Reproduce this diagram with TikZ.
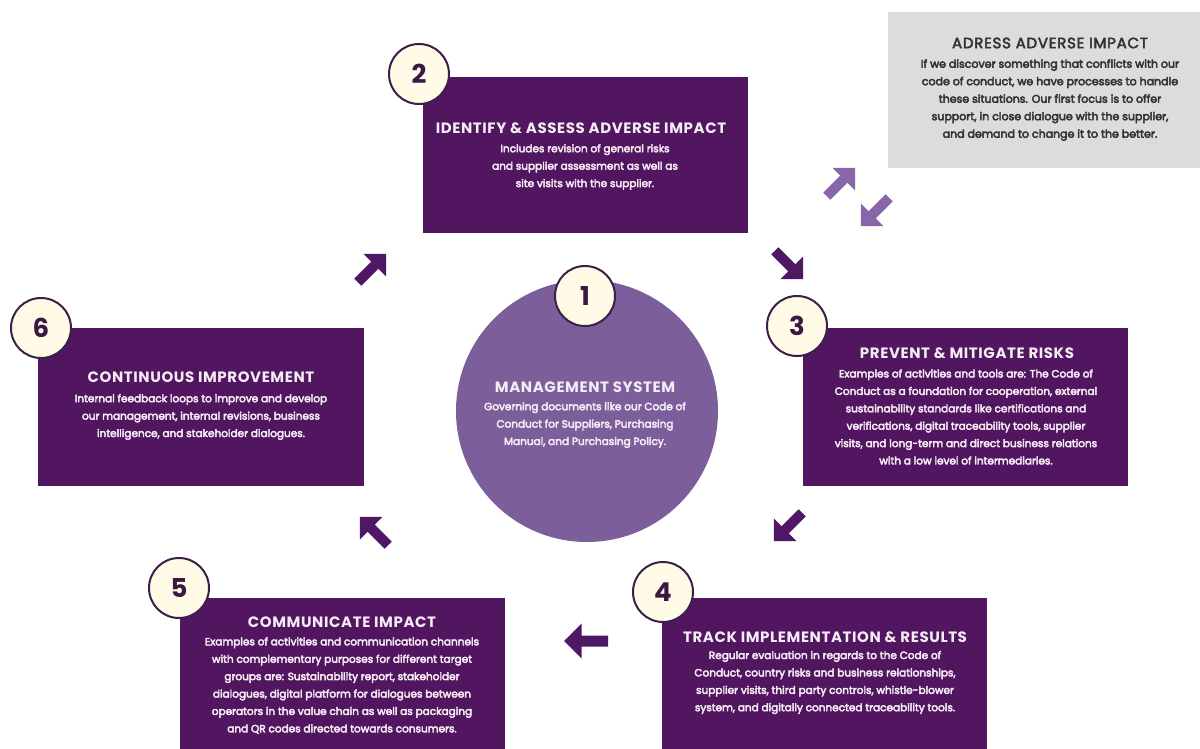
\documentclass[tikz,border=0pt]{standalone}
\usepackage{fontspec}
\setmainfont{Poppins}
\newfontfamily\bodyf[FakeBold=4]{Poppins}
\newfontfamily\ttlf[LetterSpace=4]{Poppins}
\newfontfamily\greyttlf[LetterSpace=5,FakeBold=3]{Poppins}
\definecolor{boxpurple}{HTML}{52155F}
\definecolor{midpurple}{HTML}{7C5E9B}
\definecolor{lightarrow}{HTML}{8867A8}
\definecolor{darkarrow}{HTML}{4E1864}
\definecolor{cream}{HTML}{FFFBE6}
\definecolor{numline}{HTML}{3B1F4A}
\definecolor{numtext}{HTML}{3A1846}
\definecolor{boxtext}{HTML}{F4ECF4}
\definecolor{greybox}{HTML}{DCDCDE}
\definecolor{greytext}{HTML}{333333}
\tikzset{
  pbox/.style={fill=boxpurple, draw=none, inner sep=0pt, anchor=north west},
  num/.style={circle, fill=cream, draw=numline, line width=2pt, minimum size=60pt, inner sep=0pt,
    font=\bfseries\fontsize{26}{26}\selectfont, text=numtext},
  ttl/.style={text=boxtext, inner sep=0pt, font=\ttlf\bfseries\fontsize{15}{18}\selectfont},
  body/.style={text=boxtext, align=center, inner sep=0pt, font=\bodyf\fontsize{10.5}{17.4}\selectfont},
  fatarrow/.pic={\fill (20,0) -- (4,16) -- (4,5) -- (-20,5) -- (-20,-5) -- (4,-5) -- (4,-16) -- cycle;}
}
\begin{document}
\begin{tikzpicture}[x=1pt,y=-1pt]
\useasboundingbox (0,0) rectangle (1200,749);
\fill[white] (0,0) rectangle (1200,749);

% grey box
\node[fill=greybox, inner sep=0pt, anchor=north west, minimum width=312pt, minimum height=156pt] (grey) at (888,12) {};
\node[text=greytext, inner sep=0pt, font=\greyttlf\fontsize{15}{18}\selectfont] (greyt) at (1050,43) {ADRESS ADVERSE IMPACT};
\node[body, text=greytext, font=\bodyf\fontsize{11}{17.5}\selectfont] (greyb) at (1050,100) {If we discover something that conflicts with our\\
code of conduct, we have processes to handle\\
these situations. Our first focus is to offer\\
support, in close dialogue with the supplier,\\
and demand to change it to the better.};

% center circle
\node[circle, fill=midpurple, minimum size=262pt, inner sep=0pt] (ms) at (587,411) {};
\node[ttl] (mst) at (585,387) {MANAGEMENT SYSTEM};
\node[body] (msb) at (585,425) {Governing documents like our Code of\\
Conduct for Suppliers, Purchasing\\
Manual, and Purchasing Policy.};
\node[num] (n1) at (585,296) {1};

% box 2
\node[pbox, minimum width=325pt, minimum height=156pt] (b2) at (423,77) {};
\node[ttl] (b2t) at (581,128) {IDENTIFY \& ASSESS ADVERSE IMPACT};
\node[body] (b2b) at (585,167) {Includes revision of general risks\\
and supplier assessment as well as\\
site visits with the supplier.};
\node[num] (n2) at (419,74) {2};

% box 3
\node[pbox, minimum width=325pt, minimum height=158pt] (b3) at (803,328) {};
\node[ttl] (b3t) at (967,353) {PREVENT \& MITIGATE RISKS};
\node[body] (b3b) at (966,417) {Examples of activities and tools are: The Code of\\
Conduct as a foundation for cooperation, external\\
sustainability standards like certifications and\\
verifications, digital traceability tools, supplier\\
visits, and long-term and direct business relations\\
with a low level of intermediaries.};
\node[num] (n3) at (797,326) {3};

% box 6
\node[pbox, minimum width=326pt, minimum height=158pt] (b6) at (38,328) {};
\node[ttl] (b6t) at (201,377) {CONTINUOUS IMPROVEMENT};
\node[body] (b6b) at (201,417) {Internal feedback loops to improve and develop\\
our management, internal revisions, business\\
intelligence, and stakeholder dialogues.};
\node[num] (n6) at (41,328) {6};

% box 5
\node[pbox, minimum width=325pt, minimum height=151pt] (b5) at (180,598) {};
\node[ttl] (b5t) at (342,622) {COMMUNICATE IMPACT};
\node[body] (b5b) at (342,685.5) {Examples of activities and communication channels\\
with complementary purposes for different target\\
groups are: Sustainability report, stakeholder\\
dialogues, digital platform for dialogues between\\
operators in the value chain as well as packaging\\
and QR codes directed towards consumers.};
\node[num] (n5) at (179,588) {5};

% box 4
\node[pbox, minimum width=325pt, minimum height=151pt] (b4) at (662,598) {};
\node[ttl] (b4t) at (825,637) {TRACK IMPLEMENTATION \& RESULTS};
\node[body] (b4b) at (825,682.5) {Regular evaluation in regards to the Code of\\
Conduct, country risks and business relationships,\\
supplier visits, third party controls, whistle-blower\\
system, and digitally connected traceability tools.};
\node[num] (n4) at (663,592) {4};

% arrows
\pic[darkarrow, rotate=45] at (372,268) {fatarrow};
\pic[darkarrow, rotate=-45] at (789,265) {fatarrow};
\pic[lightarrow, rotate=45] at (841,182) {fatarrow};
\pic[lightarrow, rotate=-135] at (875,212) {fatarrow};
\pic[darkarrow, rotate=-135] at (788,527) {fatarrow};
\pic[darkarrow, rotate=180, scale=1.1] at (586,641) {fatarrow};
\pic[darkarrow, rotate=135] at (374,531) {fatarrow};
\end{tikzpicture}
\end{document}
